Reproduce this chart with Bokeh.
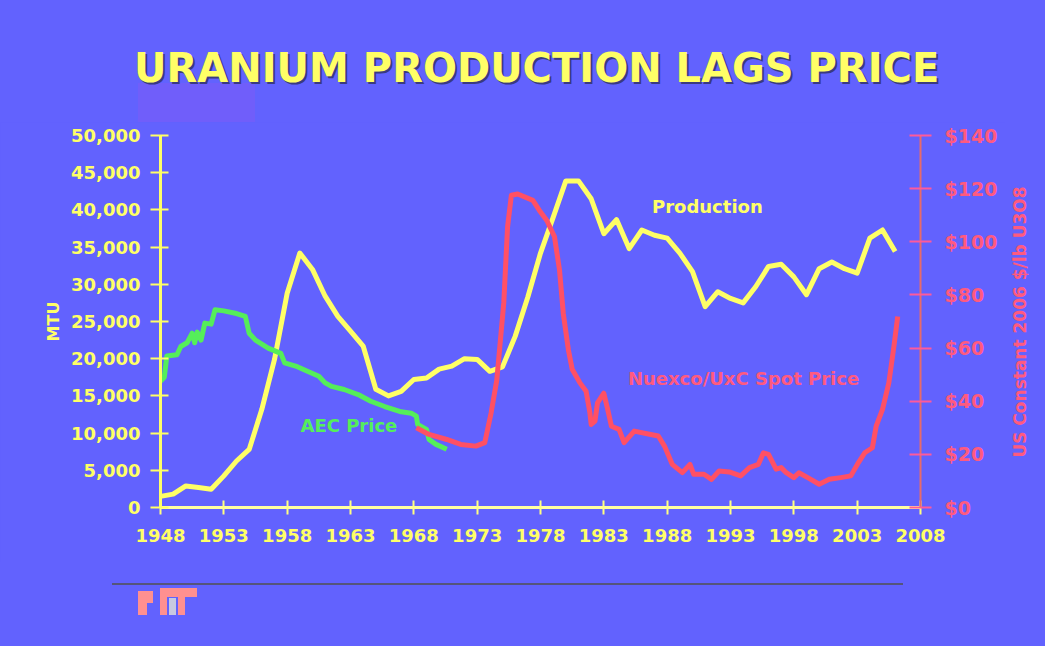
from bokeh.plotting import figure
from bokeh.models import (Range1d, LinearAxis, FixedTicker, NumeralTickFormatter,
                          Label, Div)
from bokeh.layouts import column, row
from bokeh.embed import file_html
from bokeh.resources import INLINE

# ---------------- data ----------------
prod_years = list(range(1948, 2007))
production = [1500, 1800, 2900, 2700, 2450, 4250, 6250, 7800, 13200, 19900,
              28800, 34200, 32000, 28400, 25700, 23700, 21700, 15900, 15000, 15600,
              17200, 17400, 18600, 19000, 20000, 19900, 18300, 18900, 23000, 28300,
              34200, 39000, 43900, 43900, 41500, 36800, 38700, 34800, 37300, 36600,
              36200, 34200, 31700, 27000, 29000, 28100, 27500, 29700, 32400, 32700,
              31000, 28600, 32100, 33000, 32100, 31500, 36200, 37300, 34400]

aec_years = [1948.0, 1948.3, 1948.5, 1949.3, 1949.6, 1950.1, 1950.5, 1950.7, 1950.9,
             1951.2, 1951.5, 1952.0, 1952.3, 1953.0, 1954.0, 1954.7, 1955.0, 1955.5,
             1956.5, 1957.5, 1957.8, 1958.8, 1959.6, 1960.5, 1961.0, 1961.5, 1962.5,
             1963.6, 1964.6, 1965.7, 1967.0, 1967.8, 1968.2, 1968.3, 1969.0, 1969.2,
             1969.75, 1970.6]
aec_price = [47.5, 49.0, 57.0, 57.5, 60.6, 62.0, 65.6, 62.0, 66.0,
             63.0, 69.4, 69.0, 74.4, 74.0, 73.0, 71.9, 65.6, 63.0,
             60.0, 58.0, 54.4, 53.0, 51.3, 49.4, 46.9, 45.6, 44.4,
             42.5, 40.0, 38.0, 36.0, 35.5, 34.4, 31.25, 29.4, 25.6,
             23.75, 21.9]

nux_years = [1968.2, 1969.2, 1970.6, 1971.7, 1972.9, 1973.6, 1974.1, 1974.55, 1975.1,
             1975.4, 1975.7, 1976.2, 1977.4, 1977.9, 1978.5, 1979.1, 1979.5, 1979.8,
             1980.2, 1980.5, 1981.1, 1981.6, 1981.9, 1982.0, 1982.3, 1982.5, 1983.0,
             1983.3, 1983.6, 1984.2, 1984.6, 1985.4, 1986.7, 1987.3, 1987.8, 1988.4,
             1989.2, 1989.8, 1990.1, 1990.9, 1991.5, 1992.1, 1992.9, 1993.8, 1994.5,
             1995.2, 1995.6, 1996.0, 1996.6, 1997.0, 1997.4, 1998.0, 1998.4, 1999.1,
             2000.0, 2000.8, 2001.7, 2002.5, 2003.1, 2003.6, 2004.2, 2004.5, 2005.0,
             2005.5, 2005.9, 2006.2]
nux_price = [30.0, 27.5, 25.6, 23.75, 23.1, 24.4, 35.6, 48.0, 77.0,
             105.6, 117.5, 118.0, 115.6, 111.9, 108.0, 102.0, 89.4, 73.0,
             59.4, 52.0, 47.0, 43.75, 35.6, 31.25, 32.5, 39.4, 43.0,
             37.0, 30.6, 29.4, 24.4, 28.75, 27.5, 26.9, 23.0, 16.25,
             13.1, 16.25, 12.5, 12.5, 10.6, 13.75, 13.4, 11.9, 15.0,
             16.25, 20.6, 20.0, 14.4, 15.0, 13.1, 11.25, 13.1, 11.25,
             8.75, 10.6, 11.25, 11.9, 16.9, 20.6, 22.5, 30.6, 36.9,
             46.9, 60.6, 71.9]

x_ticks = list(range(1948, 2009, 5))
mtu_ticks = list(range(0, 50001, 5000))
usd_ticks = list(range(0, 141, 20))

# ---------------- styling ----------------
BG = "#6262FE"
YEL = "#FFFF66"
GRN = "#55EE5A"
RED = "#FF5064"
PINK = "#FF5A80"
FONT = "DejaVu Sans"

W = 1045
FIG_W = 1005                                # right 40px: rotated right-axis title
TOP_H, FIG_H, BOT_H = 122, 440, 84          # 122 + 440 + 84 = 646
FL, FR = 160, 920                           # frame left / right (page px)
FIG_TOP_BORDER, FIG_BOT_BORDER = 13, 55     # frame: page y 135 .. 507

p = figure(width=FIG_W, height=FIG_H, output_backend="svg", toolbar_location=None,
           x_range=Range1d(1948, 2008), y_range=Range1d(0, 50000),
           min_border_left=FL, min_border_right=FIG_W - FR,
           min_border_top=FIG_TOP_BORDER, min_border_bottom=FIG_BOT_BORDER,
           background_fill_color=BG, border_fill_color=BG, outline_line_color=None)
p.xgrid.visible = False
p.ygrid.visible = False
p.extra_y_ranges = {"price": Range1d(0, 140)}

# x axis
xa = p.xaxis[0]
xa.ticker = FixedTicker(ticks=x_ticks)
xa.formatter = NumeralTickFormatter(format="0")
xa.axis_line_color = "#FFFFA0"
xa.axis_line_width = 3
xa.major_tick_line_color = "#FFFF80"
xa.major_tick_line_width = 2
xa.major_tick_in = 7
xa.major_tick_out = 7
xa.minor_tick_line_color = None
xa.major_label_text_color = YEL
xa.major_label_text_font = FONT
xa.major_label_text_font_style = "bold"
xa.major_label_text_font_size = "18px"
xa.major_label_standoff = 14

# left axis
ya = p.yaxis[0]
ya.ticker = FixedTicker(ticks=mtu_ticks)
ya.formatter = NumeralTickFormatter(format="0,0")
ya.axis_line_color = YEL
ya.axis_line_width = 3
ya.major_tick_line_color = YEL
ya.major_tick_line_width = 2
ya.major_tick_in = 8
ya.major_tick_out = 10
ya.minor_tick_line_color = None
ya.major_label_text_color = YEL
ya.major_label_text_font = FONT
ya.major_label_text_font_style = "bold"
ya.major_label_text_font_size = "18px"
ya.major_label_standoff = 10
ya.axis_label = "MTU"
ya.axis_label_text_color = YEL
ya.axis_label_text_font = FONT
ya.axis_label_text_font_style = "bold"
ya.axis_label_text_font_size = "16px"
ya.axis_label_standoff = 5

# right axis
ra = LinearAxis(y_range_name="price", ticker=FixedTicker(ticks=usd_ticks),
                formatter=NumeralTickFormatter(format="$0"))
ra.axis_line_color = "#E86A6A"
ra.axis_line_width = 2
ra.major_tick_line_color = "#FF5A9A"
ra.major_tick_line_width = 2
ra.major_tick_in = 11
ra.major_tick_out = 11
ra.minor_tick_line_color = None
ra.major_label_text_color = PINK
ra.major_label_text_font = FONT
ra.major_label_text_font_style = "bold"
ra.major_label_text_font_size = "19px"
ra.major_label_standoff = 13
p.add_layout(ra, "right")

# series
p.line(prod_years, production, line_color=YEL, line_width=5, line_join="round")
p.line(aec_years, aec_price, y_range_name="price", line_color=GRN, line_width=5,
       line_join="round")
p.line(nux_years, nux_price, y_range_name="price", line_color=RED, line_width=5,
       line_join="round")

# series labels
p.add_layout(Label(x=1986.8, y=40450, text="Production", text_color=YEL,
                   text_font=FONT, text_font_style="bold", text_font_size="18px",
                   text_baseline="middle", text_align="left"))
p.add_layout(Label(x=1959.05, y=11020, text="AEC Price", text_color=GRN,
                   text_font=FONT, text_font_style="bold", text_font_size="18px",
                   text_baseline="middle", text_align="left"))
p.add_layout(Label(x=1984.9, y=17340, text="Nuexco/UxC Spot Price",
                   text_color=PINK, text_font=FONT, text_font_style="bold",
                   text_font_size="18px", text_baseline="middle", text_align="left"))

# ---------------- header (title), right-axis title, footer ----------------
def blk(l, t, w, h, c):
    return (f'<div style="position:absolute;left:{l}px;top:{t}px;width:{w}px;'
            f'height:{h}px;background:{c}"></div>')

header_html = (
    f'<div style="position:relative;width:{W}px;height:{TOP_H}px;background:{BG};'
    f'overflow:hidden">'
    + blk(138, 83, 117, 39, "#705EFA")
    + f'<div style="position:absolute;left:134px;top:44px;width:800px;height:48px;'
      f'line-height:48px;text-align:center;white-space:nowrap;font-family:\'{FONT}\';'
      f'font-weight:bold;font-size:40px;color:{YEL};'
      f'text-shadow:2px 2px 0 #3A3A80">URANIUM PRODUCTION LAGS PRICE</div>'
    + '</div>')

RW = W - FIG_W
right_html = (
    f'<div style="position:relative;width:{RW}px;height:{FIG_H}px;background:{BG};'
    f'overflow:hidden">'
    f'<div style="position:absolute;left:{1020 - FIG_W}px;top:{322 - TOP_H}px;'
    f'transform:translate(-50%,-50%) rotate(-90deg);white-space:nowrap;'
    f'font-family:\'{FONT}\';font-weight:bold;font-size:17px;line-height:20px;'
    f'color:{PINK}">US Constant 2006 $/lb U3O8</div>'
    '</div>')

FOOT_Y = TOP_H + FIG_H   # page y where footer starts (562)
logo = [(137.7, 146.7, 590.7, 615, "#FF9090"),
        (146.7, 153.3, 590.7, 603.3, "#FF9090"),
        (160, 196.7, 588.3, 596.7, "#FF9090"),
        (160, 166.7, 596.7, 615, "#FF9090"),
        (169.3, 176, 598, 615, "#C8C8E0"),
        (178.3, 185, 596.7, 615, "#FF9090")]
footer_html = (
    f'<div style="position:relative;width:{W}px;height:{BOT_H}px;background:{BG};'
    f'overflow:hidden">'
    + blk(112, 582.5 - FOOT_Y, 791, 2.5, "#55557A")
    + "".join(blk(l, t - FOOT_Y, r - l, b - t, c) for l, r, t, b, c in logo)
    + '</div>')

header = Div(text=header_html, width=W, height=TOP_H, margin=0,
             styles={"background-color": BG})
right_title = Div(text=right_html, width=RW, height=FIG_H, margin=0,
                  styles={"background-color": BG})
footer = Div(text=footer_html, width=W, height=BOT_H, margin=0,
             styles={"background-color": BG})

middle = row(p, right_title, spacing=0, margin=0, styles={"background-color": BG})
layout = column(header, middle, footer, spacing=0, margin=0,
                styles={"background-color": BG})

open("out.html", "w").write(file_html(layout, INLINE))
